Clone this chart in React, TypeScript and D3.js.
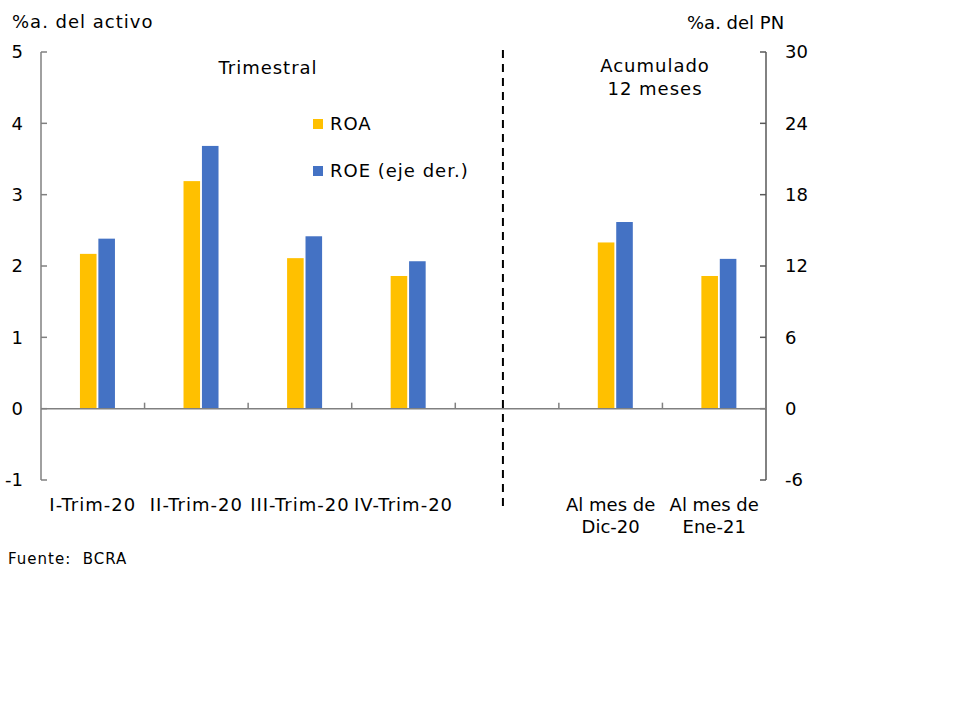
import * as d3 from "d3"

const categories = ["I-Trim-20", "II-Trim-20", "III-Trim-20", "IV-Trim-20", "", "Dic-20", "Ene-21"]
const catLabels: string[][] = [["I-Trim-20"], ["II-Trim-20"], ["III-Trim-20"], ["IV-Trim-20"], [], ["Al mes de", "Dic-20"], ["Al mes de", "Ene-21"]]
const roa: (number | null)[] = [2.17, 3.19, 2.11, 1.86, null, 2.33, 1.86]
const roe: (number | null)[] = [14.3, 22.1, 14.5, 12.4, null, 15.7, 12.6]
const leftTicks = [-1, 0, 1, 2, 3, 4, 5]
const rightTicks = [-6, 0, 6, 12, 18, 24, 30]
const series = ["ROA", "ROE"]
const seriesNames = ["ROA", "ROE (eje der.)"]
const colors = ["#FFC000", "#4472C4"]

const W = 960
const H = 720
const left = 41
const right = 766
const top = 52
const bottom = 480
const font = "Verdana, 'DejaVu Sans', sans-serif"

export default function App() {
  const keys = categories.map((c, i) => c + i)
  const x0 = d3.scaleBand<string>().domain(keys).range([left, right]).padding(0)
  const bw = x0.bandwidth()
  const x1 = d3.scaleBand<string>().domain(series).range([bw * 0.376, bw * 0.714]).paddingInner(0.1)
  const yL = d3.scaleLinear().domain([-1, 5]).range([bottom, top])
  const yR = d3.scaleLinear().domain([-6, 30]).range([bottom, top])
  const tickXs = [...keys.map((k) => x0(k)!), right]
  const dashX = x0(keys[4])! + bw * 0.46

  return (
    <svg width={W} height={H} style={{ position: "absolute", left: 0, top: 0, fontFamily: font, letterSpacing: "1px" }}>
      <rect width={W} height={H} fill="#fff" />
      {/* axis titles */}
      <text x={12} y={28} fontSize={18} fill="#000">%a. del activo</text>
      <text x={687} y={29} fontSize={18} fill="#000" letterSpacing={0}>%a. del PN</text>

      {/* bars */}
      {keys.map((k, i) => (
        <g key={k}>
          {roa[i] != null && (
            <rect x={x0(k)! + x1("ROA")!} y={yL(roa[i]!)} width={x1.bandwidth()} height={yL(0) - yL(roa[i]!)} fill={colors[0]} />
          )}
          {roe[i] != null && (
            <rect x={x0(k)! + x1("ROE")!} y={yR(roe[i]!)} width={x1.bandwidth()} height={yR(0) - yR(roe[i]!)} fill={colors[1]} />
          )}
        </g>
      ))}

      {/* left axis */}
      <line x1={left} x2={left} y1={yL(5)} y2={yL(-1)} stroke="#808080" strokeWidth={1.5} />
      {leftTicks.map((t) => (
        <g key={"l" + t}>
          <line x1={left} x2={left + 6} y1={yL(t)} y2={yL(t)} stroke="#808080" strokeWidth={1.5} />
          <text x={23} y={yL(t)} dy="0.36em" textAnchor="end" fontSize={18} letterSpacing={0}>{t}</text>
        </g>
      ))}

      {/* right axis */}
      <line x1={right} x2={right} y1={yR(30)} y2={yR(-6)} stroke="#595959" strokeWidth={1.5} />
      {rightTicks.map((t) => (
        <g key={"r" + t}>
          <line x1={right - 6} x2={right} y1={yR(t)} y2={yR(t)} stroke="#595959" strokeWidth={1.5} />
          <text x={785} y={yR(t)} dy="0.36em" textAnchor="start" fontSize={18} letterSpacing={0}>{t}</text>
        </g>
      ))}

      {/* zero line and category ticks */}
      <line x1={left} x2={right} y1={yL(0)} y2={yL(0)} stroke="#808080" strokeWidth={1.5} />
      {tickXs.slice(1, -1).map((tx, i) => (
        <line key={"t" + i} x1={tx} x2={tx} y1={yL(0)} y2={yL(0) - 6} stroke="#808080" strokeWidth={1.5} />
      ))}

      {/* category labels */}
      {keys.map((k, i) =>
        catLabels[i].map((line, j) => (
          <text key={k + j} x={x0(k)! + bw / 2} y={511 + j * 22} textAnchor="middle" fontSize={18}
            letterSpacing={catLabels[i].length > 1 ? 0 : 1}>{line}</text>
        ))
      )}

      {/* separator */}
      <line x1={dashX} x2={dashX} y1={50} y2={507} stroke="#000" strokeWidth={2} strokeDasharray="8,6" />

      {/* section labels */}
      <text x={268} y={74} textAnchor="middle" fontSize={18}>Trimestral</text>
      <text x={655} y={72} textAnchor="middle" fontSize={18}>Acumulado</text>
      <text x={655} y={95} textAnchor="middle" fontSize={18}>12 meses</text>

      {/* legend */}
      {series.map((s, i) => (
        <g key={s} transform={`translate(313, ${119 + i * 47})`}>
          <rect width={10} height={10} fill={colors[i]} />
          <text x={17} y={5} dy="0.36em" fontSize={18}>{seriesNames[i]}</text>
        </g>
      ))}

      <text x={8} y={564} fontSize={15}>{"Fuente:\u00a0 BCRA"}</text>
    </svg>
  )
}
